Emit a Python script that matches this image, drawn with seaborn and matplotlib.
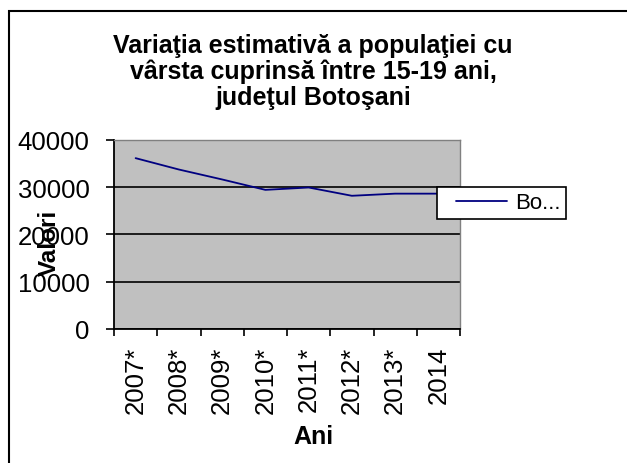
import numpy as np
import pandas as pd
import matplotlib
matplotlib.use("Agg")
import matplotlib.pyplot as plt
from matplotlib.patches import Rectangle
from matplotlib.legend_handler import HandlerLine2D
import seaborn as sns

sns.set_style("white")
plt.rcParams['font.family'] = ['Liberation Sans', 'DejaVu Sans']
plt.rcParams['text.color'] = 'black'
plt.rcParams['xtick.color'] = 'black'
plt.rcParams['ytick.color'] = 'black'

# data
ani = ["2007*", "2008*", "2009*", "2010*", "2011*", "2012*", "2013*", "2014"]
valori = [36100, 33700, 31600, 29400, 29900, 28150, 28600, 28600]
serie = "Bo..."

df = pd.DataFrame({"Ani": ani, "Valori": valori})

fig = plt.figure(figsize=(6.27, 4.64), dpi=100)
ax = fig.add_axes([114/627, 1 - 330/464, 346/627, 189.3/464])
ax.set_facecolor("#C0C0C0")

sns.lineplot(data=df, x="Ani", y="Valori", ax=ax, color="#000080",
             linewidth=1.3, label=serie, sort=False)

ax.set_ylim(0, 40000)
ax.set_xlim(-0.5, len(ani) - 0.5)
ax.set_yticks([0, 10000, 20000, 30000, 40000])
ax.set_yticklabels(["0", "10000", "20000", "30000", "40000"], fontsize=18.5)
ax.yaxis.grid(True, color="black", linewidth=1.2)
ax.xaxis.grid(False)

# category ticks at the boundaries, labels in between
ax.set_xticks(np.arange(-0.5, len(ani), 1))
ax.set_xticklabels([""] * (len(ani) + 1))
ax.set_xticks(range(len(ani)), minor=True)
ax.set_xticklabels(ani, minor=True, rotation=90, fontsize=18.5)
ax.tick_params(axis="x", which="major", direction="out", length=5, width=1.2,
               color="black", bottom=True)
ax.tick_params(axis="x", which="minor", length=0, pad=12)
ax.tick_params(axis="y", direction="out", length=6, width=1.2, color="black",
               left=True, pad=11.5)

for s in ["left", "bottom"]:
    ax.spines[s].set_color("black")
    ax.spines[s].set_linewidth(1.3)
for s in ["top", "right"]:
    ax.spines[s].set_color("#808080")
    ax.spines[s].set_linewidth(1.0)

ax.set_xlabel("")
ax.set_ylabel("")
fig.text(313/627, 1 - 437/464, "Ani", ha="center", va="center",
         fontsize=18, fontweight="bold")
fig.text(49/627, 1 - 243/464, "Valori", ha="center", va="center",
         rotation=90, fontsize=17.5, fontweight="bold")

fig.text(313/627, 1 - 72/464,
         "Variaţia estimativă a populaţiei cu\nvârsta cuprinsă între 15-19 ani,\njudeţul Botoşani",
         ha="center", va="center", fontsize=18, fontweight="bold",
         linespacing=1.1)

leg = ax.legend(loc="center left", bbox_to_anchor=(437/627, 1 - 204/464),
                bbox_transform=fig.transFigure, frameon=True, fancybox=False,
                fontsize=16, handlelength=2.9, borderpad=0.25, handletextpad=0.36,
                borderaxespad=0,
                handler_map={plt.Line2D: HandlerLine2D(xpad=0.6)})
leg.get_frame().set_edgecolor("black")
leg.get_frame().set_linewidth(1.2)
leg.get_frame().set_facecolor("white")
leg.get_frame().set_alpha(1)

# outer chart frame
fig.patches.append(Rectangle((9/627, -0.1), 1.2, 1 - 12/464 + 0.1,
                             transform=fig.transFigure, fill=False,
                             edgecolor="black", linewidth=1.5))

fig.savefig("out.png", dpi=100)
